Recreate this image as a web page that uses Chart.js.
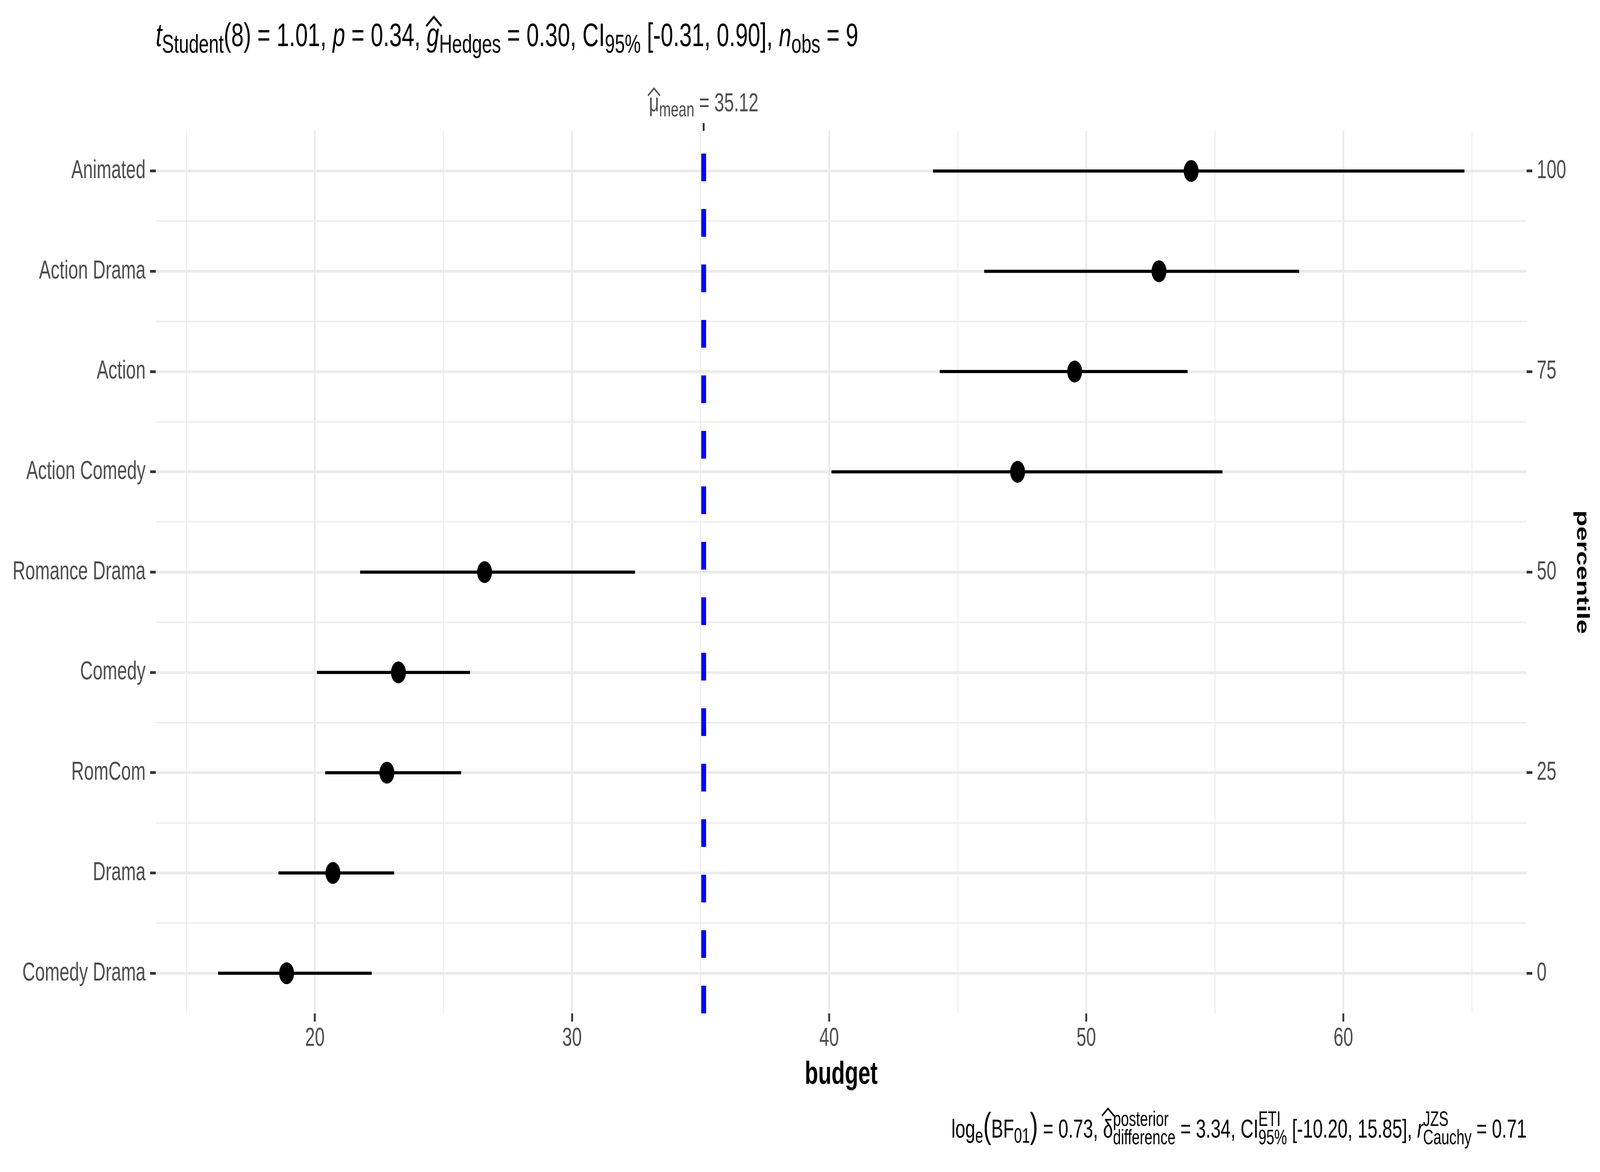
<!DOCTYPE html>
<html>
<head>
<meta charset="utf-8">
<script src="https://cdn.jsdelivr.net/npm/chart.js@4.4.0/dist/chart.umd.min.js"></script>
<style>
html,body{margin:0;padding:0;background:#ffffff;overflow:hidden;}
#wrap{width:100vw;height:100vh;position:relative;}
#c{display:block;width:100vw !important;height:100vh !important;}
</style>
</head>
<body>
<div id="wrap"><canvas id="c" width="6000" height="3000"></canvas></div>
<script>
// ---------------- data ----------------
const categories = ["Comedy Drama","Drama","RomCom","Comedy","Romance Drama","Action Comedy","Action","Action Drama","Animated"];
const budgetMean = [18.90, 20.70, 22.80, 23.25, 26.60, 47.33, 49.55, 52.83, 54.08];
const budgetLow  = [16.23, 18.58, 20.40, 20.08, 21.76, 40.09, 44.30, 46.03, 44.04];
const budgetHigh = [22.21, 23.08, 25.69, 26.03, 32.45, 55.30, 53.94, 58.28, 64.71];
const percentiles = [0, 12.5, 25, 37.5, 50, 62.5, 75, 87.5, 100];
const percentileTicks = [0, 25, 50, 75, 100];
const budgetTicks = [20, 30, 40, 50, 60];
const budgetMinorTicks = [15, 25, 35, 45, 55, 65];
const overallMean = 35.12;
const xRange = [13.81, 67.13];
const yRange = [-5, 105];

// statistics text
const statT = {df: 8, t: "1.01", p: "0.34", g: "0.30", ciLow: "-0.31", ciHigh: "0.90", n: 9};
const statBF = {logBF: "0.73", delta: "3.34", ciLow: "-10.20", ciHigh: "15.85", r: "0.71"};

// ---------------- rich text helpers ----------------
const FAMILY = '"Liberation Sans", Arial, Helvetica, sans-serif';
Chart.defaults.font.family = FAMILY;
function fontStr(size, italic, bold){
  return (italic ? 'italic ' : '') + (bold ? 'bold ' : '') + size + 'px ' + FAMILY;
}
const SUBSCALE = 0.8;
function layoutRich(ctx, items, s){
  let w = 0; const parts = [];
  for (const it of items){
    if (it.stack){
      ctx.font = fontStr(s*SUBSCALE);
      const w1 = ctx.measureText(it.stack[0]).width;
      const w2 = ctx.measureText(it.stack[1]).width;
      const ww = Math.max(w1, w2);
      parts.push(Object.assign({}, it, {x: w, w: ww}));
      w += ww;
    } else {
      const size = it.sub ? s*SUBSCALE : (it.big ? s*it.big : s);
      ctx.font = fontStr(size, it.it);
      const ww = ctx.measureText(it.t).width;
      parts.push(Object.assign({}, it, {x: w, w: ww, size: size}));
      w += ww;
    }
  }
  return {parts: parts, width: w};
}
function drawRich(ctx, items, x, y, s, color, align){
  const L = layoutRich(ctx, items, s);
  const x0 = align === 'right' ? x - L.width : (align === 'center' ? x - L.width/2 : x);
  ctx.fillStyle = color; ctx.strokeStyle = color;
  ctx.textBaseline = 'alphabetic'; ctx.textAlign = 'left';
  for (const p of L.parts){
    if (p.stack){
      ctx.font = fontStr(s*SUBSCALE);
      ctx.fillText(p.stack[0], x0 + p.x, y - s*0.45);
      ctx.fillText(p.stack[1], x0 + p.x, y + s*0.25);
    } else {
      ctx.font = fontStr(p.size, p.it);
      const dy = p.sub ? s*0.2 : 0;
      ctx.fillText(p.t, x0 + p.x, y + dy);
      if (p.hat){
        const cx = x0 + p.x + p.w/2 + (p.it ? s*0.04 : 0);
        const bottom = y - s*p.hat - s*0.09;
        const hw = s*0.34, hh = s*0.28;
        ctx.lineWidth = s*0.07; ctx.lineJoin = 'miter'; ctx.lineCap = 'butt';
        ctx.beginPath();
        ctx.moveTo(cx - hw, bottom);
        ctx.lineTo(cx, bottom - hh);
        ctx.lineTo(cx + hw, bottom);
        ctx.stroke();
      }
    }
  }
}

const titleItems = [
  {t:'t', it:1}, {t:'Student', sub:1}, {t:'(' + statT.df + ') = ' + statT.t + ', '},
  {t:'p', it:1}, {t:' = ' + statT.p + ', '},
  {t:'g', it:1, hat:0.52}, {t:'Hedges', sub:1}, {t:' = ' + statT.g + ', CI'},
  {t:'95%', sub:1}, {t:' [' + statT.ciLow + ', ' + statT.ciHigh + '], '},
  {t:'n', it:1}, {t:'obs', sub:1}, {t:' = ' + statT.n}
];
const meanItems = [
  {t:'\u03bc', hat:0.52}, {t:'mean', sub:1}, {t:' = ' + overallMean.toFixed(2)}
];
const captionItems = [
  {t:'log'}, {t:'e', sub:1}, {t:'(', big:1.35}, {t:'BF'}, {t:'01', sub:1}, {t:')', big:1.35},
  {t:' = ' + statBF.logBF + ', '},
  {t:'\u03b4', hat:0.74}, {stack:['posterior','difference']}, {t:' = ' + statBF.delta + ', CI'},
  {stack:['ETI','95%']}, {t:' [' + statBF.ciLow + ', ' + statBF.ciHigh + '], '},
  {t:'r', it:1}, {stack:['JZS','Cauchy']}, {t:' = ' + statBF.r}
];

const annotPlugin = {
  id: 'annot',
  beforeDraw(chart){
    const ctx = chart.ctx;
    ctx.save(); ctx.fillStyle = '#ffffff'; ctx.fillRect(0, 0, chart.width, chart.height); ctx.restore();
  },
  afterDraw(chart){
    const ctx = chart.ctx; const a = chart.chartArea;
    ctx.save();
    drawRich(ctx, titleItems, a.left, 118, 84, '#000000', 'left');
    drawRich(ctx, meanItems, chart.scales.x.getPixelForValue(overallMean), 285, 66, '#4D4D4D', 'center');
    drawRich(ctx, captionItems, a.right, 2912, 67, '#000000', 'right');
    ctx.restore();
  }
};

// ---------------- datasets ----------------
const pointData = budgetMean.map((m, i) => ({x: m, y: percentiles[i]}));
const datasets = [
  {type:'scatter', data: pointData, pointRadius: 28, pointHoverRadius: 28,
   backgroundColor:'#000000', borderWidth: 0, pointBorderWidth: 0}
];
categories.forEach((c, i) => {
  datasets.push({type:'line', label: c,
    data:[{x: budgetLow[i], y: percentiles[i]}, {x: budgetHigh[i], y: percentiles[i]}],
    borderColor:'#000000', borderWidth: 8, pointRadius: 0, showLine: true, fill: false});
});
datasets.push({type:'line', label:'mean',
  data:[{x: overallMean, y: yRange[0]}, {x: overallMean, y: yRange[1]}],
  borderColor:'#0000FF', borderWidth: 18, borderDash:[71,71], pointRadius: 0, showLine: true, fill:false});

const minorY = percentiles.slice(1).map((v, i) => (v + percentiles[i]) / 2);
const GRID = '#EBEBEB', TICKC = '#333333', LAB = '#4D4D4D';
const MAJ = 7, MIN = 3.5;

new Chart(document.getElementById('c'), {
  type: 'scatter',
  data: {datasets: datasets},
  plugins: [annotPlugin],
  options: {
    responsive: false, animation: false, devicePixelRatio: 1,
    layout: {padding: 0},
    plugins: {legend:{display:false}, tooltip:{enabled:false}, title:{display:false}},
    events: [],
    scales: {
      x: {
        type:'linear', position:'bottom', min: xRange[0], max: xRange[1],
        afterBuildTicks: s => { s.ticks = budgetTicks.concat(budgetMinorTicks).sort((a,b)=>a-b).map(v => ({value:v})); },
        afterFit: s => { s.height = 406; },
        border: {display:false},
        grid: {
          color: GRID,
          lineWidth: c => (c.tick && budgetTicks.includes(c.tick.value)) ? MAJ : MIN,
          tickColor: c => (c.tick && budgetTicks.includes(c.tick.value)) ? TICKC : 'rgba(0,0,0,0)',
          tickWidth: 7, tickLength: 21, drawTicks: true
        },
        ticks: {
          autoSkip:false, maxRotation:0, minRotation:0, padding: 11,
          color: LAB, font:{size:66, lineHeight:1},
          callback: v => budgetTicks.includes(v) ? String(v) : ''
        },
        title: {display:true, text:'budget', color:'#000000',
          font:{size:82, weight:'bold', lineHeight:1}, padding:{top:0, bottom:208}}
      },
      x2: {
        type:'linear', position:'top', min: xRange[0], max: xRange[1],
        afterBuildTicks: s => { s.ticks = [{value: overallMean}]; },
        afterFit: s => { s.height = 335; },
        border: {display:false},
        grid: {drawOnChartArea:false, tickColor: TICKC, tickWidth: 7, tickLength: 20, color: GRID},
        ticks: {autoSkip:false, maxRotation:0, color: LAB, font:{size:66}, callback: () => ''}
      },
      y: {
        type:'linear', position:'left', min: yRange[0], max: yRange[1],
        afterBuildTicks: s => { s.ticks = percentiles.concat(minorY).sort((a,b)=>a-b).map(v => ({value:v})); },
        afterFit: s => { s.width = 584; },
        border: {display:false},
        grid: {
          color: GRID,
          lineWidth: c => (c.tick && percentiles.includes(c.tick.value)) ? MAJ : MIN,
          tickColor: c => (c.tick && percentiles.includes(c.tick.value)) ? TICKC : 'rgba(0,0,0,0)',
          tickWidth: 7, tickLength: 21, drawTicks: true
        },
        ticks: {
          autoSkip:false, padding: 17, color: LAB, font:{size:66, lineHeight:1},
          callback: v => { const i = percentiles.indexOf(v); return i >= 0 ? categories[i] : ''; }
        }
      },
      y2: {
        type:'linear', position:'right', min: yRange[0], max: yRange[1],
        afterBuildTicks: s => { s.ticks = percentileTicks.map(v => ({value:v})); },
        afterFit: s => { s.width = 275; },
        border: {display:false},
        grid: {drawOnChartArea:false, tickColor: TICKC, tickWidth: 7, tickLength: 21, color: GRID},
        ticks: {autoSkip:false, padding: 17, color: LAB, font:{size:66, lineHeight:1},
          callback: v => String(v)},
        title: {display:true, text:'percentile', color:'#000000',
          font:{size:67, weight:'bold', lineHeight:1}, padding:{top:34, bottom:0}}
      }
    }
  }
});
</script>
</body>
</html>
